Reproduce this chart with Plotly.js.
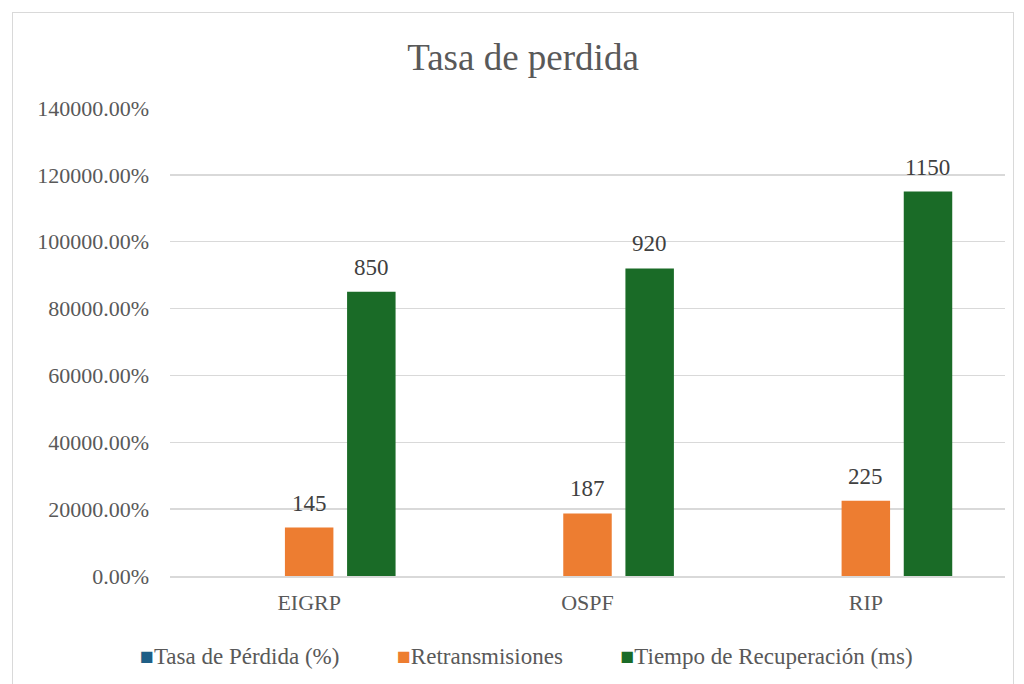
<!DOCTYPE html>
<html>
<head>
<meta charset="utf-8">
<script src="https://cdn.plot.ly/plotly-3.0.1.min.js"></script>
<style>
html,body{margin:0;padding:0;background:#fff;overflow:hidden;}
#frame{position:absolute;left:12px;top:12px;width:1000px;height:680px;border:1px solid #d9d9d9;}
#chart{width:1000px;height:680px;}
</style>
</head>
<body>
<div id="frame"><div id="chart"></div></div>
<script>
const categories = ["EIGRP", "OSPF", "RIP"];
const tasaPerdida = [0.02, 0.03, 0.05];
const retransmisiones = [145, 187, 225];
const tiempoRecuperacion = [850, 920, 1150];
const seriesNames = ["Tasa de Pérdida (%)", "Retransmisiones", "Tiempo de Recuperación (ms)"];
const colors = ["#1F5F86", "#ED7D31", "#1A6B27"];

const font = "Liberation Serif, Times New Roman, serif";
const txt = "#595959";

const traces = [
  {type:"bar", x:categories, y:tasaPerdida, name:seriesNames[0], marker:{color:colors[0]}},
  {type:"bar", x:categories, y:retransmisiones, name:seriesNames[1], marker:{color:colors[1]}},
  {type:"bar", x:categories, y:tiempoRecuperacion, name:seriesNames[2], marker:{color:colors[2]}}
];

const annotations = [];
const slotShift = 0.223;
[[retransmisiones, 0], [tiempoRecuperacion, 1]].forEach(([vals, k]) => {
  vals.forEach((v, i) => {
    annotations.push({x:i + (k === 0 ? 0 : slotShift), y:v, xref:"x", yref:"y", text:String(v),
      showarrow:false, yanchor:"bottom", yshift:10,
      font:{family:font, size:23, color:"#404040"}});
  });
});
const sp = "\u00a0".repeat(10);
const legendText = seriesNames.map((n, i) =>
  `<span style="color:${colors[i]};font-size:23px">■</span>${n}`).join(sp);
annotations.push({xref:"paper", yref:"paper", x:0.4275, y:-0.173, xanchor:"center", yanchor:"middle",
  showarrow:false, text:legendText, font:{family:font, size:23, color:txt}});

const layout = {
  width:1000, height:680,
  margin:{l:157, r:8, t:95, b:117},
  paper_bgcolor:"#fff", plot_bgcolor:"#fff",
  font:{family:font, color:txt},
  title:{text:"Tasa de perdida", font:{family:font, size:37, color:txt}, x:0.51, xanchor:"center", y:0.935, yanchor:"middle"},
  barmode:"group", bargap:0.33, bargroupgap:0.22,
  xaxis:{type:"category", showgrid:false, zeroline:false, showline:true, linecolor:"#d9d9d9", linewidth:1.5,
         tickfont:{family:font, size:22, color:txt}, ticks:"", ticklabelstandoff:6, range:[-0.5, 2.5]},
  yaxis:{range:[0,1400], dtick:200, tick0:0, tickformat:".2%", showgrid:true, gridcolor:"#d9d9d9", gridwidth:1.5,
         zeroline:false, showline:false, tickfont:{family:font, size:22, color:txt}, ticks:"", ticklabelstandoff:20},
  showlegend:false,
  annotations:annotations
};

Plotly.newPlot("chart", traces, layout, {displayModeBar:false, staticPlot:true});
</script>
</body>
</html>
